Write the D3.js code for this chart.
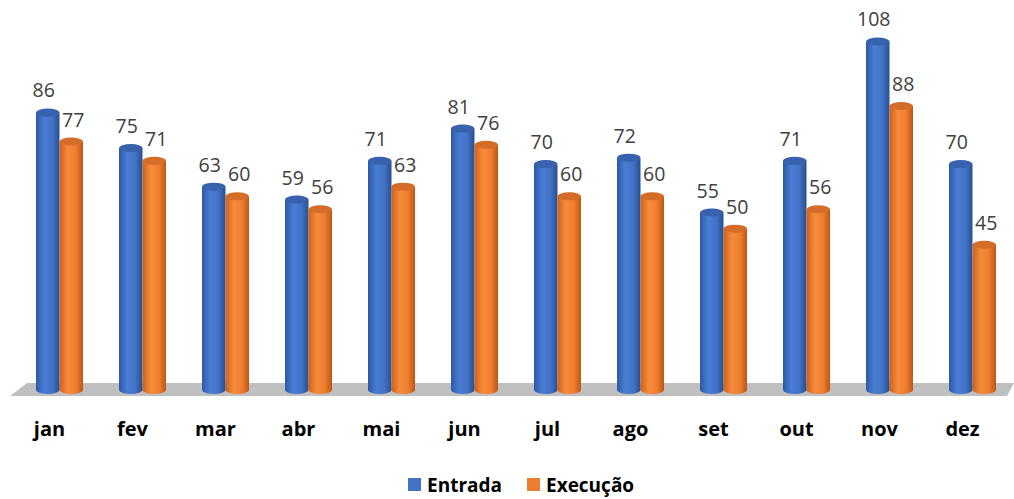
<!DOCTYPE html>
<html lang="pt">
<head>
<meta charset="utf-8">
<title>Entrada x Execução</title>
<script src="https://d3js.org/d3.v7.min.js"></script>
<style>
  body { margin: 0; background: #fff; }
  svg text { font-family: "Open Sans", sans-serif; }
</style>
</head>
<body>
<div id="chart"></div>
<script>
  var meses = ["jan", "fev", "mar", "abr", "mai", "jun", "jul", "ago", "set", "out", "nov", "dez"];
  var series = ["Entrada", "Execução"];
  var entrada = [86, 75, 63, 59, 71, 81, 70, 72, 55, 71, 108, 70];
  var execucao = [77, 71, 60, 56, 63, 76, 60, 60, 50, 56, 88, 45];

  var width = 1014, height = 499;

  var svg = d3.select("#chart").append("svg")
      .attr("width", width)
      .attr("height", height);

  var cores = {
    "Entrada": { side: ["#2d58a6", "#4a7dd4", "#4272c6", "#28508f"], top: "#3862ae" },
    "Execução": { side: ["#cc621d", "#f78b3c", "#ee7e30", "#bd5614"], top: "#d56d28" }
  };

  var defs = svg.append("defs");
  series.forEach(function(s, i) {
    var g = defs.append("linearGradient").attr("id", "grad" + i)
      .attr("x1", "0%").attr("x2", "100%").attr("y1", "0%").attr("y2", "0%");
    var offs = ["0%", "35%", "70%", "100%"];
    cores[s].side.forEach(function(c, k) {
      g.append("stop").attr("offset", offs[k]).attr("stop-color", c);
    });
  });

  var x = d3.scaleBand().domain(meses).range([18, 1014]).padding(0);
  var x1 = d3.scaleBand().domain(series).range([-23.5, 23.5]);
  var y = d3.scaleLinear().domain([0, 110]).range([390, 35]);

  // piso
  svg.append("path")
    .attr("d", "M27,383 L1014,383 L1007,396 L10,396 Z")
    .attr("fill", "#bfbfbf");

  var dados = meses.map(function(m, i) {
    return { mes: m, vals: [entrada[i], execucao[i]] };
  });

  var ry = 4;

  series.forEach(function(s, si) {
    var bw = x1.bandwidth();
    var g = svg.append("g").attr("class", "serie-" + si);
    var bars = g.selectAll("g.bar")
      .data(dados)
      .enter().append("g")
      .attr("class", "bar")
      .attr("transform", function(d) {
        return "translate(" + (x(d.mes) + x.bandwidth() / 2 + x1(s)) + ",0)";
      });

    bars.append("ellipse")
      .attr("cx", bw / 2)
      .attr("cy", y(0))
      .attr("rx", bw / 2)
      .attr("ry", ry)
      .attr("fill", "url(#grad" + si + ")");

    bars.append("rect")
      .attr("x", 0)
      .attr("y", function(d) { return y(d.vals[si]); })
      .attr("width", bw)
      .attr("height", function(d) { return y(0) - y(d.vals[si]); })
      .attr("fill", "url(#grad" + si + ")");

    bars.append("ellipse")
      .attr("cx", bw / 2)
      .attr("cy", function(d) { return y(d.vals[si]); })
      .attr("rx", bw / 2)
      .attr("ry", ry)
      .attr("fill", cores[s].top);

    bars.append("text")
      .attr("x", bw / 2 + (si === 0 ? -4 : 2))
      .attr("y", function(d) { return y(d.vals[si]) - ry - 11; })
      .attr("text-anchor", "middle")
      .attr("font-size", "19.5px")
      .attr("fill", "#404040")
      .text(function(d) { return d.vals[si]; });
  });

  // rótulos do eixo x
  svg.append("g").selectAll("text")
    .data(meses)
    .enter().append("text")
    .attr("x", function(d) { return x(d) + x.bandwidth() / 2 - 10; })
    .attr("y", 436)
    .attr("text-anchor", "middle")
    .attr("font-size", "20px")
    .attr("font-weight", "bold")
    .attr("fill", "#000")
    .text(function(d) { return d; });

  // legenda
  var leg = svg.append("g");
  var legX = [408, 527];
  series.forEach(function(s, i) {
    leg.append("rect")
      .attr("x", legX[i]).attr("y", 478)
      .attr("width", 13).attr("height", 13)
      .attr("fill", i === 0 ? "#4472c4" : "#ed7d31");
    leg.append("text")
      .attr("x", legX[i] + 19).attr("y", 492)
      .attr("font-size", "19px")
      .attr("font-weight", "bold")
      .attr("fill", "#000")
      .text(s);
  });
</script>
</body>
</html>
